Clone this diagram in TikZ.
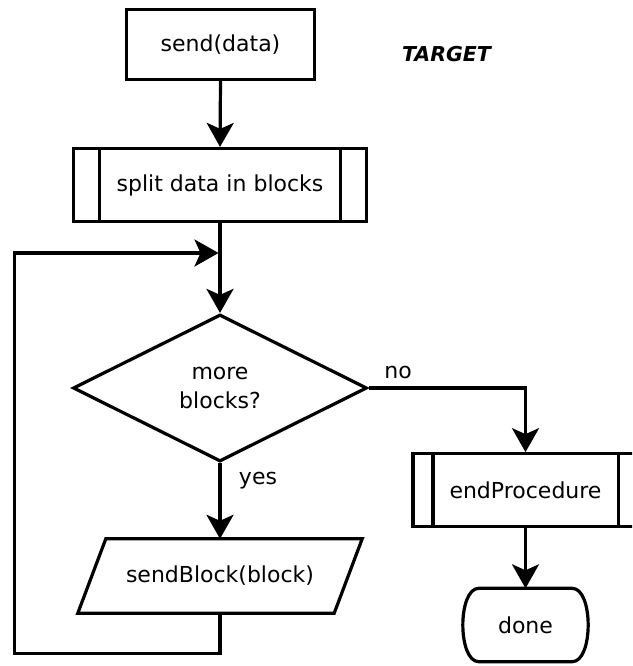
\documentclass[tikz,border=0pt]{standalone}
\usepackage{fontspec}
\setmainfont{DejaVu Sans}
\usetikzlibrary{shapes.geometric,arrows.meta}

\begin{document}
\begin{tikzpicture}[
    x=1pt, y=-1pt,
    every node/.style={font=\fontsize{22}{29}\selectfont, inner sep=0pt},
    outline/.style={draw=black, line width=3.2pt, line join=miter},
    flow/.style={line width=3.2pt, -{Stealth[length=24pt,width=27pt,inset=6pt]}},
    procbox/.style={outline, rectangle},
    decision/.style={outline, diamond, aspect=2, align=center},
    iobox/.style={rectangle, minimum width=284pt, minimum height=74pt},
    terminal/.style={rectangle, minimum width=125pt, minimum height=73pt},
    branchtext/.style={inner sep=0pt},
    heading/.style={font=\fontsize{20.5}{24}\selectfont\bfseries\itshape}
  ]
  % page area
  \clip (0,0) rectangle (632,666);
  \fill[white] (0,0) rectangle (632,666);

  % nodes
  \node[procbox, minimum width=188pt, minimum height=70pt] (send) at (220.5,44.5) {send(data)};
  \node[heading] (title) at (446.5,54.5) {TARGET};
  \node[procbox, minimum width=293pt, minimum height=73pt] (split) at (220,185) {split data in blocks};
  \node[decision, minimum width=294pt, minimum height=147pt] (more) at (220,388) {more\\blocks?};
  \node[iobox] (sendblk) at (220,576) {sendBlock(block)};
  \node[procbox, minimum width=225pt, minimum height=72.5pt] (endp) at (525.5,490) {endProcedure};
  \node[terminal] (done) at (525.5,625) {done};
  \node[branchtext] (no) at (398,372.5) {no};
  \node[branchtext] (yes) at (258,480.3) {yes};

  % side bars of the predefined-process boxes
  \draw[outline] ([xshift=27.5pt]split.north west) -- ([xshift=27.5pt]split.south west)
                 ([xshift=-27.5pt]split.north east) -- ([xshift=-27.5pt]split.south east);
  \draw[outline] ([xshift=21.5pt]endp.north west) -- ([xshift=21.5pt]endp.south west)
                 ([xshift=-21.5pt]endp.north east) -- ([xshift=-21.5pt]endp.south east);

  % input/output parallelogram
  \draw[outline] ([xshift=28pt]sendblk.north west) -- (sendblk.north east)
                 -- ([xshift=-28pt]sendblk.south east) -- (sendblk.south west) -- cycle;

  % terminal with bulging sides
  \draw[outline] ([xshift=16pt]done.north west) -- ([xshift=-16pt]done.north east)
                 .. controls ([xshift=5.3pt]done.north east) and ([xshift=5.3pt]done.south east)
                 .. ([xshift=-16pt]done.south east) -- ([xshift=16pt]done.south west)
                 .. controls ([xshift=-5.3pt]done.south west) and ([xshift=-5.3pt]done.north west)
                 .. cycle;

  % loop return points
  \coordinate (loopcorner) at (14.3,653.3);
  \coordinate (merge) at (220,253);

  % connectors
  \draw[flow] (send.south) -- (split.north);
  \draw[flow] (split.south) -- (more.north);
  \draw[flow] (more.south) -- (sendblk.north);
  \draw[flow] (more.east) -| (endp.north);
  \draw[flow] (endp.south) -- (done.north);
  \draw[flow, shorten >=1.5pt] (sendblk.south) |- (loopcorner) |- (merge);
\end{tikzpicture}
\end{document}
